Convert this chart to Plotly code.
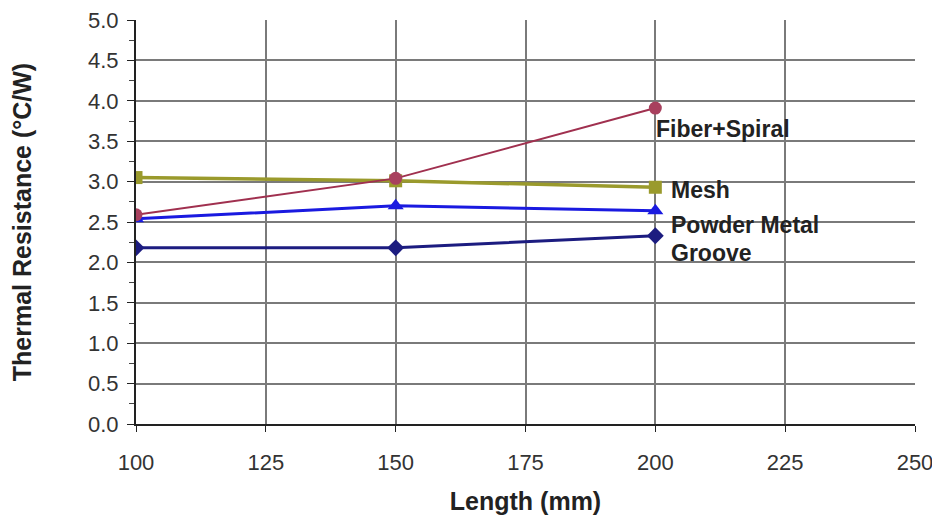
import plotly.graph_objects as go

lengths = [100, 150, 200]
fiber_spiral = [2.59, 3.04, 3.91]
mesh = [3.05, 3.01, 2.93]
powder_metal = [2.54, 2.70, 2.64]
groove = [2.18, 2.18, 2.33]

series_names = ["Fiber+Spiral", "Mesh", "Powder Metal", "Groove"]
label_x = [199.8, 202.6, 202.6, 202.6]
label_y = [3.65, 2.90, 2.46, 2.12]

x_ticks = [100, 125, 150, 175, 200, 225, 250]
y_ticks = [0.0, 0.5, 1.0, 1.5, 2.0, 2.5, 3.0, 3.5, 4.0, 4.5, 5.0]

FONT = "Liberation Sans, Arial, sans-serif"

fig = go.Figure()
fig.add_trace(go.Scatter(x=lengths, y=mesh, mode="lines+markers", name="Mesh",
                         line=dict(color="#9a9a2c", width=3.5),
                         marker=dict(symbol="square", size=13, color="#9a9a2c")))
fig.add_trace(go.Scatter(x=lengths, y=powder_metal, mode="lines+markers", name="Powder Metal",
                         line=dict(color="#1a1ae0", width=3),
                         marker=dict(symbol="triangle-up", size=14, color="#1a1ae0")))
fig.add_trace(go.Scatter(x=lengths, y=groove, mode="lines+markers", name="Groove",
                         line=dict(color="#1c1c80", width=3),
                         marker=dict(symbol="diamond", size=13, color="#1c1c80")))
fig.add_trace(go.Scatter(x=lengths, y=fiber_spiral, mode="lines+markers", name="Fiber+Spiral",
                         line=dict(color="#a0304f", width=2),
                         marker=dict(symbol="circle", size=13, color="#a8405e")))

for name, lx, ly in zip(series_names, label_x, label_y):
    fig.add_annotation(x=lx, y=ly, xref="x", yref="y", text=name, showarrow=False,
                       xanchor="left", yanchor="middle",
                       font=dict(family=FONT, size=23, color="#222222", weight="bold"))

fig.update_layout(
    width=924, height=507,
    margin=dict(l=128, r=17, t=12, b=91),
    plot_bgcolor="white", paper_bgcolor="white",
    showlegend=False,
    font=dict(family=FONT, size=22, color="#333333"),
)
fig.update_xaxes(range=[100, 250], tickvals=x_ticks, ticktext=[str(v) for v in x_ticks],
                 showgrid=True, gridcolor="#7a7a7a", gridwidth=1.5,
                 showline=True, linecolor="#222222", linewidth=2,
                 ticks="outside", ticklen=6, tickcolor="#222222", zeroline=False,
                 ticklabelstandoff=12, automargin=False, ticklabeloverflow="allow",
                 title=dict(text="<b>Length (mm)</b>", standoff=22,
                            font=dict(size=25, color="#222222")))
fig.update_yaxes(range=[0, 5], tickvals=y_ticks, ticktext=[f"{v:.1f}" for v in y_ticks],
                 showgrid=True, gridcolor="#7a7a7a", gridwidth=1.5,
                 showline=True, linecolor="#222222", linewidth=2,
                 ticks="outside", ticklen=7, tickcolor="#222222", zeroline=False,
                 ticklabelstandoff=4, automargin=False, ticklabeloverflow="allow",
                 minor=dict(dtick=0.25, ticks="outside", ticklen=5, tickcolor="#444444", showgrid=False),
                 title=dict(text="<b>Thermal Resistance (°C/W)</b>", standoff=50,
                            font=dict(size=25, color="#222222")))

fig.write_html("out.html")
